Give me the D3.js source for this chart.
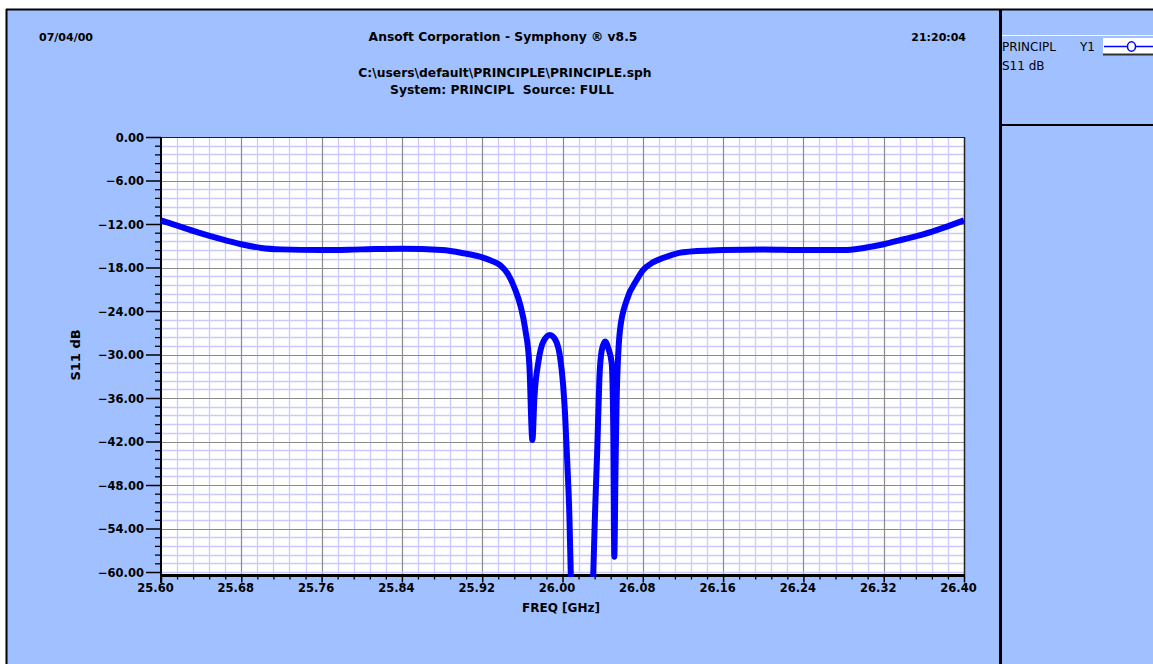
<!DOCTYPE html>
<html>
<head>
<meta charset="utf-8">
<script src="https://cdn.jsdelivr.net/npm/d3@7"></script>
<style>
  html, body { margin: 0; padding: 0; background: #ffffff; }
  svg { display: block; }
  text { font-family: "DejaVu Sans", sans-serif; fill: #000; white-space: pre; }
</style>
</head>
<body>
<svg id="chart" width="1153" height="664"></svg>
<script>
// S11 response of the PRINCIPL filter, frequency in GHz, magnitude in dB
const freqGHz = [
  25.60, 25.62, 25.64, 25.66, 25.68, 25.70, 25.72, 25.76, 25.80, 25.84,
  25.88, 25.90, 25.92, 25.928, 25.938, 25.946, 25.953, 25.958, 25.963, 25.967,
  25.970, 25.972, 25.976, 25.981, 25.9875, 25.993, 25.9975, 26.0005, 26.0025, 26.0048,
  26.0068, 26.0082, 26.011, 26.028, 26.0307, 26.0324, 26.0347, 26.0367, 26.039, 26.0423,
  26.046, 26.049, 26.0506, 26.0516, 26.0528, 26.054, 26.0573, 26.064, 26.074, 26.08,
  26.09, 26.10, 26.12, 26.16, 26.20, 26.24, 26.28, 26.30, 26.32, 26.34,
  26.36, 26.38, 26.40
];
const s11dB = [
  -11.5, -12.4, -13.3, -14.1, -14.8, -15.3, -15.5, -15.6, -15.5, -15.4,
  -15.6, -16.0, -16.6, -17.0, -17.7, -19.0, -21.1, -23.2, -26.6, -31.5,
  -41.8, -36.0, -31.0, -28.2, -27.3, -28.0, -30.3, -34.0, -38.1, -45.0,
  -51.9, -60.0, -68.0, -68.0, -60.0, -51.9, -42.8, -33.5, -29.5, -28.2,
  -29.3, -31.2, -40.4, -57.9, -46.0, -35.8, -26.6, -22.5, -19.7, -18.4,
  -17.3, -16.7, -15.9, -15.6, -15.5, -15.6, -15.6, -15.3, -14.8, -14.1,
  -13.4, -12.5, -11.5
];

// Axis ticks and labels
const yMajorTicks = [0, -6, -12, -18, -24, -30, -36, -42, -48, -54, -60];
const xMajorTicks = [25.60, 25.68, 25.76, 25.84, 25.92, 26.00, 26.08, 26.16, 26.24, 26.32, 26.40];

// Header and legend texts
const headerDate = "07/04/00";
const headerTitle = "Ansoft Corporation - Symphony \u00AE v8.5";
const headerTime = "21:20:04";
const headerFile = "C:\\users\\default\\PRINCIPLE\\PRINCIPLE.sph";
const headerSystem = "System: PRINCIPL  Source: FULL";
const legendCircuit = "PRINCIPL";
const legendAxis = "Y1";
const legendMeasure = "S11 dB";
const xTitle = "FREQ [GHz]";
const yTitle = "S11 dB";

const svg = d3.select("#chart");
const W = 1153, H = 664;
const bg = "#a0c0ff";

const plot = { left: 161, right: 964, top: 137, bottom: 572, axisY: 575.5 };

const x = d3.scaleLinear().domain([25.6, 26.4]).range([plot.left, plot.right]);
const y = d3.scaleLinear().domain([-60, 0]).range([plot.bottom, plot.top]);

// Window background and frame
svg.append("rect").attr("x", 6).attr("y", 9).attr("width", W - 6).attr("height", H - 9).attr("fill", bg);
svg.append("line").attr("x1", 6).attr("x2", W).attr("y1", 9.5).attr("y2", 9.5).attr("stroke", "#000").attr("stroke-width", 2);
svg.append("line").attr("x1", 6.5).attr("x2", 6.5).attr("y1", 9).attr("y2", H).attr("stroke", "#000").attr("stroke-width", 2);

// Legend panel on the right
svg.append("line").attr("x1", 1000.5).attr("x2", 1000.5).attr("y1", 9).attr("y2", H).attr("stroke", "#000").attr("stroke-width", 3);
svg.append("line").attr("x1", 1002).attr("x2", W).attr("y1", 35.5).attr("y2", 35.5).attr("stroke", "#fff").attr("stroke-width", 1);
svg.append("line").attr("x1", 1002).attr("x2", W).attr("y1", 125).attr("y2", 125).attr("stroke", "#000").attr("stroke-width", 2);
svg.append("rect").attr("x", 1103).attr("y", 38).attr("width", 50).attr("height", 16).attr("fill", "#fff");
svg.append("line").attr("x1", 1103).attr("x2", W).attr("y1", 54.5).attr("y2", 54.5).attr("stroke", "#333").attr("stroke-width", 2);
svg.append("line").attr("x1", 1104).attr("x2", W).attr("y1", 46.5).attr("y2", 46.5).attr("stroke", "#0000ff").attr("stroke-width", 1.3);
svg.append("ellipse").attr("cx", 1131.5).attr("cy", 46.5).attr("rx", 4).attr("ry", 4.8)
  .attr("fill", "#fff").attr("stroke", "#0000ff").attr("stroke-width", 1.5);
const legendFont = "Liberation Sans, Arial, sans-serif";
svg.append("text").attr("x", 1002).attr("y", 51).attr("font-family", legendFont)
  .attr("font-size", 12).text(legendCircuit);
svg.append("text").attr("x", 1080).attr("y", 51).attr("font-family", legendFont)
  .attr("font-size", 12).text(legendAxis);
svg.append("text").attr("x", 1002).attr("y", 70).attr("font-family", legendFont)
  .attr("font-size", 12).text(legendMeasure);

// Header lines
const hdr = svg.append("g").attr("font-weight", "bold");
hdr.append("text").attr("x", 39).attr("y", 41).attr("font-size", 11).text(headerDate);
hdr.append("text").attr("x", 503).attr("y", 41).attr("font-size", 12.3).attr("text-anchor", "middle").text(headerTitle);
hdr.append("text").attr("x", 966).attr("y", 41).attr("font-size", 11).attr("text-anchor", "end").text(headerTime);
hdr.append("text").attr("x", 505).attr("y", 77).attr("font-size", 12.3).attr("text-anchor", "middle").text(headerFile);
hdr.append("text").attr("x", 502).attr("y", 94).attr("font-size", 12.3).attr("text-anchor", "middle").text(headerSystem);

// Plot area
svg.append("rect").attr("x", plot.left).attr("y", plot.top)
  .attr("width", plot.right - plot.left).attr("height", plot.axisY - plot.top).attr("fill", "#fff");

const xMinor = d3.range(0, 51).map(i => 25.6 + i * 0.016).filter((v, i) => i % 5 !== 0);
const yMinor = d3.range(0, 51).map(i => -i * 1.2).filter((v, i) => i % 5 !== 0);

const grid = svg.append("g");
grid.selectAll(".vx").data(xMinor).join("line")
  .attr("x1", d => Math.round(x(d)) + 0.5).attr("x2", d => Math.round(x(d)) + 0.5)
  .attr("y1", plot.top).attr("y2", plot.axisY)
  .attr("stroke", "#cacaff").attr("stroke-width", 1.3);
grid.selectAll(".hy").data(yMinor).join("line")
  .attr("x1", plot.left).attr("x2", plot.right)
  .attr("y1", d => Math.round(y(d)) + 0.5).attr("y2", d => Math.round(y(d)) + 0.5)
  .attr("stroke", "#cacaff").attr("stroke-width", 1.3);
grid.selectAll(".vX").data(xMajorTicks.slice(1, -1)).join("line")
  .attr("x1", d => Math.round(x(d)) + 0.5).attr("x2", d => Math.round(x(d)) + 0.5)
  .attr("y1", plot.top).attr("y2", plot.axisY)
  .attr("stroke", "#8a8a8a").attr("stroke-width", 1.2);
grid.selectAll(".hY").data(yMajorTicks.slice(1, -1)).join("line")
  .attr("x1", plot.left).attr("x2", plot.right)
  .attr("y1", d => Math.round(y(d)) + 0.5).attr("y2", d => Math.round(y(d)) + 0.5)
  .attr("stroke", "#8a8a8a").attr("stroke-width", 1.2);
// -60 grid line
grid.append("line").attr("x1", plot.left).attr("x2", plot.right)
  .attr("y1", Math.round(y(-60)) + 0.5).attr("y2", Math.round(y(-60)) + 0.5)
  .attr("stroke", "#cacaff").attr("stroke-width", 1.3);

// Plot frame: top and right edges
svg.append("line").attr("x1", plot.left).attr("x2", plot.right + 0.5).attr("y1", plot.top + 0.5).attr("y2", plot.top + 0.5)
  .attr("stroke", "#222").attr("stroke-width", 1.2);
svg.append("line").attr("x1", plot.right + 0.5).attr("x2", plot.right + 0.5).attr("y1", plot.top).attr("y2", plot.axisY)
  .attr("stroke", "#222").attr("stroke-width", 1.5);

// Left axis with major and minor ticks
const yAxis = d3.axisLeft(y).tickValues(yMajorTicks).tickSize(15).tickFormat(d => d3.format(".2f")(d));
const gy = svg.append("g").attr("transform", `translate(${plot.left},0)`).call(yAxis);
gy.select(".domain").remove();
gy.selectAll(".tick line").attr("stroke", "#000").attr("stroke-width", 1.5);
gy.selectAll(".tick text").attr("x", -17).attr("dy", "0.36em")
  .attr("font-size", 11.5).attr("font-weight", "bold").attr("font-family", "DejaVu Sans, sans-serif");
const yAxisMinor = d3.axisLeft(y).tickValues(yMinor).tickSize(6).tickFormat("");
const gym = svg.append("g").attr("transform", `translate(${plot.left},0)`).call(yAxisMinor);
gym.select(".domain").remove();
gym.selectAll(".tick line").attr("stroke", "#000").attr("stroke-width", 1.3);
svg.append("line").attr("x1", plot.left).attr("x2", plot.left).attr("y1", plot.top).attr("y2", 583)
  .attr("stroke", "#000").attr("stroke-width", 2);

// Bottom axis with major and minor ticks
const xAxis = d3.axisBottom(x).tickValues(xMajorTicks).tickSize(7).tickFormat(d => d3.format(".2f")(d));
const gx = svg.append("g").attr("transform", `translate(0,${plot.axisY})`).call(xAxis);
gx.select(".domain").remove();
gx.selectAll(".tick line").attr("stroke", "#000").attr("stroke-width", 1.5);
gx.selectAll(".tick text").attr("x", -6).attr("y", 16).attr("dy", 0)
  .attr("font-size", 11.5).attr("font-weight", "bold").attr("font-family", "DejaVu Sans, sans-serif");
const xAxisMinor = d3.axisBottom(x).tickValues(xMinor).tickSize(4).tickFormat("");
const gxm = svg.append("g").attr("transform", `translate(0,${plot.axisY})`).call(xAxisMinor);
gxm.select(".domain").remove();
gxm.selectAll(".tick line").attr("stroke", "#000").attr("stroke-width", 1.3);
svg.append("line").attr("x1", plot.left - 1).attr("x2", plot.right + 1).attr("y1", plot.axisY).attr("y2", plot.axisY)
  .attr("stroke", "#000").attr("stroke-width", 3);

// Axis titles
svg.append("text").attr("x", 561).attr("y", 612).attr("text-anchor", "middle")
  .attr("font-size", 12).attr("font-weight", "bold").text(xTitle);
svg.append("text").attr("transform", "translate(80,355) rotate(-90)").attr("text-anchor", "middle")
  .attr("font-size", 13).attr("font-weight", "bold").text(yTitle);

// S11 trace
svg.append("clipPath").attr("id", "traceClip").append("rect")
  .attr("x", plot.left - 3).attr("y", plot.top - 3).attr("width", plot.right - plot.left + 6).attr("height", 577 - plot.top + 3);

const pts = freqGHz.map((f, i) => [f, s11dB[i]]);
const line = d3.line().x(d => x(d[0])).y(d => y(d[1])).curve(d3.curveMonotoneX);
svg.append("path").datum(pts).attr("d", line)
  .attr("clip-path", "url(#traceClip)")
  .attr("fill", "none").attr("stroke", "#0000ff").attr("stroke-width", 6)
  .attr("stroke-linejoin", "round").attr("stroke-linecap", "butt");
</script>
</body>
</html>
